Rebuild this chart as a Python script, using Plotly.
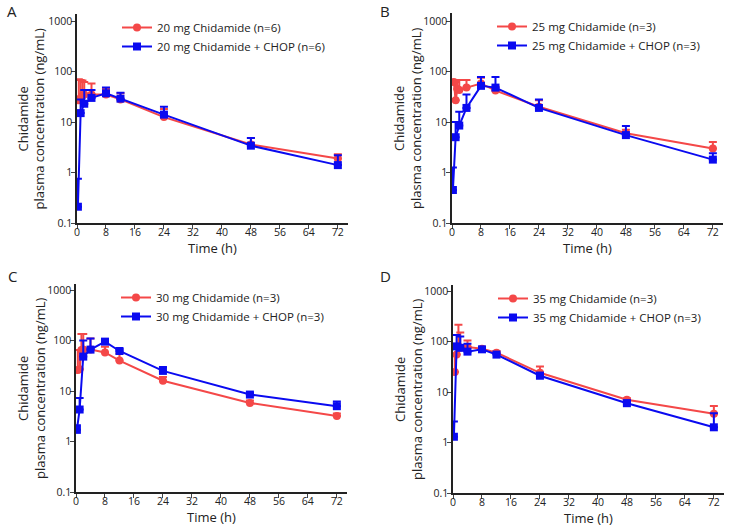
import plotly.graph_objects as go

W, H = 735, 529

# ---------------- data ----------------
panel_letters = ["A", "B", "C", "D"]
doses = ["20", "25", "30", "35"]
n_mono = [6, 3, 3, 3]
n_combo = [6, 3, 3, 3]

t_mono = [0.5, 1, 1.5, 2, 4, 8, 12, 24, 48, 72]
t_combo = [0.25, 1, 2, 4, 8, 12, 24, 48, 72]

# Panel A (20 mg)
a_mono_mean = [27, 30, 33, 35, 35, 35, 28, 12.5, 3.6, 1.9]
a_mono_top = [70, 68, 66, 62, 58, 45, 37, 18, 4.8, 2.3]
a_combo_mean = [0.21, 15, 23, 30, 37, 29, 14, 3.4, 1.4]
a_combo_top = [0.75, 28, 43, 43, 48, 38, 20, 4.8, 2.2]

# Panel B (25 mg)
b_mono_mean = [62, 27, 45, 43, 48, 58, 42, 20, 6.0, 3.0]
b_mono_top = [65, 62, 68, 68, 68, 75, 50, 27, 7.0, 4.0]
b_combo_mean = [0.45, 5.0, 8.5, 19, 52, 48, 19, 5.5, 1.8]
b_combo_top = [1.25, 10, 16, 35, 78, 78, 28, 8.3, 2.4]

# Panel C (30 mg)
c_mono_mean = [26, 27, 65, 66, 66, 58, 40, 16, 5.8, 3.2]
c_mono_top = [65, 65, 135, 135, 110, 75, 55, 19, 6.5, 3.6]
c_combo_mean = [1.7, 4.3, 48, 66, 95, 62, 25, 8.5, 5.0]
c_combo_top = [2.1, 7.3, 100, 110, 105, 68, 30, 9.2, 6.2]

# Panel D (35 mg)
d_mono_mean = [25, 55, 80, 75, 78, 72, 60, 24, 7.0, 3.7]
d_mono_top = [55, 80, 215, 150, 105, 76, 65, 32, 7.5, 5.3]
d_combo_mean = [1.3, 80, 75, 63, 70, 55, 21, 6.0, 2.0]
d_combo_top = [2.6, 135, 125, 90, 76, 58, 24, 6.8, 3.8]

mono_means = [a_mono_mean, b_mono_mean, c_mono_mean, d_mono_mean]
mono_tops = [a_mono_top, b_mono_top, c_mono_top, d_mono_top]
combo_means = [a_combo_mean, b_combo_mean, c_combo_mean, d_combo_mean]
combo_tops = [a_combo_top, b_combo_top, c_combo_top, d_combo_top]

x_ticks = [0, 8, 16, 24, 32, 40, 48, 56, 64, 72]
y_ticks = [0.1, 1, 10, 100, 1000]
y_ticklabels = ["0.1", "1", "10", "100", "1000"]
x_title = "Time (h)"
y_title = "Chidamide<br>plasma concentration (ng/mL)"

RED = "#F44848"
BLUE = "#0A0AF0"
INK = "#222"

# pixel geometry of each panel: (left, right, top, bottom)
panels_px = [(77, 348, 14, 223), (452, 723, 13, 223),
             (76, 347, 284, 492), (453, 724, 285, 493)]
ytitle_x = [31, 407, 31, 408]
letter_pos = [(12, 0), (385, 0), (12, 265), (385, 265)]  # box top

fig = go.Figure()
layout = dict(width=W, height=H, margin=dict(l=0, r=0, t=0, b=0, autoexpand=False),
              paper_bgcolor="white", plot_bgcolor="white",
              font=dict(family="Open Sans, Arial, sans-serif", color=INK))
annotations = []

for i in range(4):
    l, r, t, b = panels_px[i]
    sfx = "" if i == 0 else str(i + 1)
    xa, ya = "x" + sfx, "y" + sfx
    leg = "legend" if i == 0 else "legend" + str(i + 1)
    ytop = -1 + (b - t) / 50.5
    layout["xaxis" + sfx] = dict(
        domain=[l / W, r / W], range=[0, 74.8], anchor=ya, automargin=False,
        tickvals=x_ticks, ticks="outside", ticklen=4, tickwidth=1.2,
        ticklabelstandoff=-5,
        showline=True, linecolor=INK, linewidth=1.5, showgrid=False,
        zeroline=False, tickfont=dict(size=10.5, color=INK))
    layout["yaxis" + sfx] = dict(
        domain=[1 - b / H, 1 - t / H], type="log", range=[-1, ytop], anchor=xa,
        automargin=False, ticklabelstandoff=-3,
        tickvals=y_ticks, ticktext=y_ticklabels, ticks="outside", ticklen=4,
        tickwidth=1.2, showline=True, linecolor=INK, linewidth=1.5,
        showgrid=False, zeroline=False, tickfont=dict(size=10.5, color=INK))
    layout[leg] = dict(x=(l + 40) / W, y=1 - (t - 1) / H, xanchor="left",
                       yanchor="top", bgcolor="rgba(0,0,0,0)",
                       font=dict(size=11.5, color=INK), tracegroupgap=0)
    mm, mt = mono_means[i], mono_tops[i]
    cm, ct = combo_means[i], combo_tops[i]
    fig.add_trace(go.Scatter(
        x=t_mono, y=mm, mode="lines+markers", xaxis=xa, yaxis=ya, legend=leg,
        name=f"{doses[i]} mg Chidamide (n={n_mono[i]})",
        line=dict(color=RED, width=2), marker=dict(symbol="circle", size=8, color=RED),
        error_y=dict(type="data", symmetric=False,
                     array=[tp - m for tp, m in zip(mt, mm)],
                     arrayminus=[0] * len(mm), color=RED, thickness=2, width=4)))
    fig.add_trace(go.Scatter(
        x=t_combo, y=cm, mode="lines+markers", xaxis=xa, yaxis=ya, legend=leg,
        name=f"{doses[i]} mg Chidamide + CHOP (n={n_combo[i]})",
        line=dict(color=BLUE, width=2), marker=dict(symbol="square", size=8, color=BLUE),
        error_y=dict(type="data", symmetric=False,
                     array=[tp - m for tp, m in zip(ct, cm)],
                     arrayminus=[0] * len(cm), color=BLUE, thickness=2, width=4)))
    lx, ly = letter_pos[i]
    annotations.append(dict(text=panel_letters[i], x=lx / W, y=1 - ly / H,
                            xref="paper", yref="paper", showarrow=False,
                            xanchor="center", yanchor="top", borderpad=0,
                            font=dict(size=15, color=INK)))
    # x-axis title
    annotations.append(dict(text=x_title, x=(l + r) / 2 / W, y=1 - (b + 25) / H,
                            xref="paper", yref="paper", showarrow=False,
                            xanchor="center", yanchor="middle",
                            font=dict(size=13, color=INK)))
    # y-axis title
    annotations.append(dict(text=y_title, x=ytitle_x[i] / W, y=1 - (t + b) / 2 / H,
                            xref="paper", yref="paper", showarrow=False,
                            xanchor="center", yanchor="middle", textangle=-90,
                            font=dict(size=13, color=INK)))

layout["annotations"] = annotations
fig.update_layout(**layout)
fig.write_html("out.html", config={"displayModeBar": False},
               post_script="document.body.style.margin='0';document.body.style.overflow='hidden';")
